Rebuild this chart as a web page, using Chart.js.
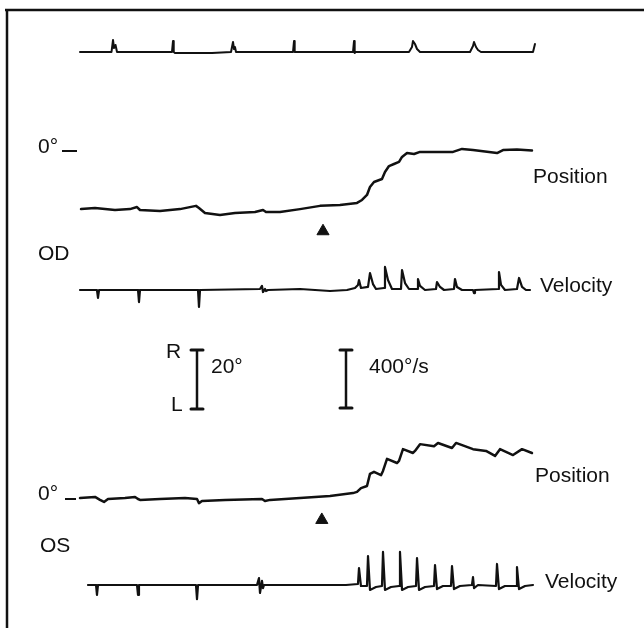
<!DOCTYPE html>
<html>
<head>
<meta charset="utf-8">
<script src="https://cdn.jsdelivr.net/npm/chart.js@4"></script>
<style>
  html, body { margin: 0; padding: 0; background: #fff; }
  #wrap { width: 644px; height: 628px; }
</style>
</head>
<body>
<div id="wrap"><canvas id="eye-trace" width="644" height="628"></canvas></div>
<script>
// Time in seconds, from start of recording.
// Time marker channel (arbitrary units)
const markerTrace = [
  [0, 0], [0.525, 0], [0.55, 12], [0.567, 4], [0.592, 7], [0.617, 0],
  [1.533, 0], [1.55, 11], [1.562, 0], [1.583, -1], [2.2, -1], [2.517, 0],
  [2.533, 0], [2.55, 10], [2.567, 3], [2.583, 5], [2.6, 0],
  [3.55, 0], [3.567, 11], [3.578, 0],
  [4.55, 0], [4.567, 11], [4.578, -1], [4.6, 0],
  [5.483, 0], [5.533, 5], [5.55, 11], [5.583, 8], [5.617, 3], [5.667, 0],
  [6.5, 0], [6.55, 6], [6.567, 10], [6.6, 5], [6.633, 2], [6.683, 0],
  [7.55, 0], [7.583, 8]
];

// OD (right eye) position, degrees (R positive)
const odPositionTrace = [
  [0.017, -19.7], [0.25, -19.3], [0.583, -20.0], [0.833, -19.7], [0.95, -19.0],
  [1.0, -20.0], [1.333, -20.3], [1.667, -19.7], [1.933, -18.6], [1.983, -19.3],
  [2.083, -21.0], [2.333, -21.7], [2.583, -21.0], [2.917, -20.7], [3.05, -20.0],
  [3.1, -20.7], [3.333, -20.7], [3.667, -19.7], [4.0, -18.6], [4.333, -18.3],
  [4.617, -17.6], [4.7, -16.6], [4.783, -14.9], [4.833, -12.2], [4.9, -10.5],
  [5.033, -9.5], [5.083, -7.1], [5.15, -5.1], [5.233, -4.4], [5.317, -3.7],
  [5.367, -2.0], [5.45, -0.7], [5.567, -1.0], [5.667, -0.3], [6.0, -0.3],
  [6.217, -0.3], [6.367, 0.7], [6.55, 0.3], [6.95, -0.7], [7.05, 0.3],
  [7.283, 0.5], [7.533, 0.2]
];

// OD velocity, deg/s
const odVelocityTrace = [
  [0, 0], [0.283, 0], [0.3, -55], [0.317, 0], [0.967, 0], [0.983, -83], [1.0, 0],
  [1.967, 0], [1.983, -117], [2.0, 0], [3.0, 7], [3.033, 28], [3.05, -14],
  [3.083, 7], [3.1, -7], [3.133, 0], [3.667, 7], [4.167, -7], [4.45, 0],
  [4.583, 14], [4.633, 35], [4.65, 69], [4.683, 14], [4.8, 21], [4.833, 117],
  [4.883, 41], [4.933, 7], [5.067, 14], [5.083, 159], [5.133, 69], [5.2, 7],
  [5.35, 7], [5.367, 138], [5.417, 48], [5.483, 7], [5.617, 7], [5.633, 76],
  [5.667, 28], [5.75, 0], [5.933, 7], [5.95, 55], [6.0, 21], [6.067, 0],
  [6.233, 7], [6.25, 76], [6.283, 21], [6.367, 0], [6.55, 0], [6.567, -21],
  [6.583, 0], [6.967, 7], [6.983, 124], [7.017, 35], [7.083, 0], [7.283, 7],
  [7.317, 83], [7.367, 21], [7.433, 0], [7.5, 0]
];

// OS (left eye) position, degrees
const osPositionTrace = [
  [0, 0.3], [0.25, 0.7], [0.333, -0.3], [0.4, -1.0], [0.467, 0], [0.75, 0.3],
  [0.917, 0.7], [0.967, 0], [1.0, -0.3], [1.333, 0], [1.75, 0.3], [1.95, 0],
  [1.983, -1.4], [2.033, -0.7], [2.417, -0.3], [3.033, 0], [3.083, -0.7],
  [3.167, -0.3], [3.667, 0.3], [4.167, 1.0], [4.55, 2.0], [4.617, 2.4],
  [4.683, 3.7], [4.783, 4.4], [4.833, 8.5], [4.9, 9.2], [5.017, 8.1],
  [5.05, 9.5], [5.117, 13.6], [5.283, 12.2], [5.317, 12.9], [5.383, 16.9],
  [5.55, 15.6], [5.583, 16.3], [5.667, 18.6], [5.9, 17.9], [5.967, 19.0],
  [6.2, 17.3], [6.267, 19.0], [6.55, 16.9], [6.767, 16.3], [6.917, 14.6],
  [7.0, 16.9], [7.217, 14.9], [7.367, 16.9], [7.533, 15.6]
];

// OS velocity, deg/s
const osVelocityTrace = [
  [0.133, 0], [0.267, 0], [0.283, -69], [0.3, 0], [0.95, 0], [0.967, -69],
  [0.983, 0], [1.933, 0], [1.95, -97], [1.967, 0], [2.95, 0], [2.983, 48],
  [3.0, -55], [3.033, 28], [3.05, -21], [3.067, 0], [4.433, 0], [4.633, 7],
  [4.65, 117], [4.683, -7], [4.783, -7], [4.8, 200], [4.833, -34], [4.933, -14],
  [5.033, -7], [5.05, 228], [5.083, -34], [5.183, -14], [5.317, -7], [5.333, 228],
  [5.367, -34], [5.467, -14], [5.6, -7], [5.617, 186], [5.65, -34], [5.75, -14],
  [5.9, -7], [5.917, 138], [5.95, -28], [6.05, -7], [6.183, -7], [6.2, 131],
  [6.233, -28], [6.333, -7], [6.533, 0], [6.55, 55], [6.567, -21], [6.633, 0],
  [6.933, -7], [6.95, 145], [6.983, -28], [7.083, -7], [7.267, -7], [7.283, 124],
  [7.317, -28], [7.417, -7], [7.55, 0]
];

// Stimulus onset arrows [time, position deg]
const odArrow = [[4.05, -27.2]];
const osArrow = [[4.03, -7.1]];

// Calibration bars
const positionBarDeg = 20;
const velocityBarDegPerSec = 400;

const H = 628;
const PX_PER_SEC = 60, T0_PX = 80;
const PX_PER_DEG = 2.95;
const PX_PER_DPS = 58 / 400;

// Each trace has its own hidden y axis placed as a band on the canvas
function band(zeroPx, pxPerUnit) {
  return { display: false, min: (zeroPx - H) / pxPerUnit, max: zeroPx / pxPerUnit };
}

function pts(arr) {
  return arr.map(p => ({ x: p[0], y: p[1] }));
}

function trace(data, axis, width) {
  return {
    data: pts(data),
    yAxisID: axis,
    showLine: true,
    borderColor: "#111",
    borderWidth: width,
    pointRadius: 0,
    tension: 0,
    borderJoinStyle: "round",
    borderCapStyle: "round"
  };
}

function arrow(data, axis) {
  return {
    data: pts(data),
    yAxisID: axis,
    showLine: false,
    pointStyle: "triangle",
    pointRadius: 7,
    backgroundColor: "#111",
    borderColor: "#111",
    borderWidth: 1
  };
}

// Labels, calibration bars and frame
const decorations = {
  id: "decorations",
  afterDraw(chart) {
    const ctx = chart.ctx;
    const s = chart.scales;
    ctx.save();
    ctx.strokeStyle = "#111";
    ctx.fillStyle = "#111";
    ctx.lineCap = "butt";

    // frame (top and left)
    ctx.lineWidth = 2.5;
    ctx.beginPath();
    ctx.moveTo(5, 10); ctx.lineTo(644, 10);
    ctx.moveTo(7, 9); ctx.lineTo(7, 628);
    ctx.stroke();

    ctx.font = "21px 'Liberation Sans', Arial, sans-serif";
    ctx.textBaseline = "alphabetic";

    // zero markers
    const odZero = s.odPos.getPixelForValue(0);
    const osZero = s.osPos.getPixelForValue(0);
    ctx.fillText("0°", 38, odZero + 2);
    ctx.fillText("0°", 38, osZero + 1);
    ctx.lineWidth = 2;
    ctx.beginPath();
    ctx.moveTo(62, odZero); ctx.lineTo(77, odZero);
    ctx.moveTo(65, osZero); ctx.lineTo(76, osZero);
    ctx.stroke();

    ctx.fillText("Position", 533, 183);
    ctx.fillText("Position", 535, 482);
    ctx.fillText("Velocity", 540, 292);
    ctx.fillText("Velocity", 545, 588);
    ctx.fillText("OD", 38, 260);
    ctx.fillText("OS", 40, 552);

    // calibration bars
    const top = 350;
    const degLen = s.odPos.getPixelForValue(0) - s.odPos.getPixelForValue(positionBarDeg);
    const velLen = s.odVel.getPixelForValue(0) - s.odVel.getPixelForValue(velocityBarDegPerSec);
    function ibar(x, len) {
      ctx.lineWidth = 2.5;
      ctx.beginPath();
      ctx.moveTo(x, top); ctx.lineTo(x, top + len);
      ctx.stroke();
      ctx.lineWidth = 3;
      ctx.lineCap = "round";
      ctx.beginPath();
      ctx.moveTo(x - 6, top); ctx.lineTo(x + 6, top);
      ctx.moveTo(x - 6, top + len); ctx.lineTo(x + 6, top + len);
      ctx.stroke();
      ctx.lineCap = "butt";
    }
    ibar(197, degLen);
    ibar(346, velLen);
    ctx.fillText("R", 166, 358);
    ctx.fillText("L", 171, 411);
    ctx.fillText("20°", 211, 373);
    ctx.fillText("400°/s", 369, 373);
    ctx.restore();
  }
};

new Chart("eye-trace", {
  type: "scatter",
  data: {
    datasets: [
      trace(markerTrace, "marker", 2),
      trace(odPositionTrace, "odPos", 2.5),
      trace(odVelocityTrace, "odVel", 2.2),
      trace(osPositionTrace, "osPos", 2.5),
      trace(osVelocityTrace, "osVel", 2.2),
      arrow(odArrow, "odPos"),
      arrow(osArrow, "osPos")
    ]
  },
  options: {
    responsive: false,
    animation: false,
    devicePixelRatio: 1,
    layout: { padding: 0, autoPadding: false },
    plugins: { legend: { display: false }, tooltip: { enabled: false } },
    scales: {
      x: { type: "linear", display: false, min: -T0_PX / PX_PER_SEC, max: (644 - T0_PX) / PX_PER_SEC },
      y: { display: false },
      marker: band(52, 1),
      odPos: band(151, PX_PER_DEG),
      odVel: band(290, PX_PER_DPS),
      osPos: band(499, PX_PER_DEG),
      osVel: band(585, PX_PER_DPS)
    }
  },
  plugins: [decorations]
});
</script>
</body>
</html>
